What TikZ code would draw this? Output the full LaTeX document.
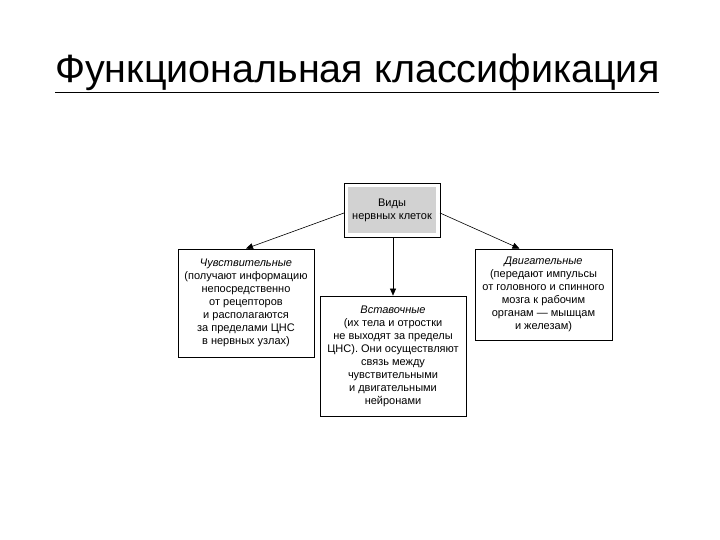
\documentclass[tikz,border=0pt]{standalone}
\usepackage{fontspec}
\setmainfont{Liberation Sans}
\usetikzlibrary{arrows.meta}
\begin{document}
\begin{tikzpicture}[x=1pt,y=-1pt,
  box/.style={draw,line width=0.8pt,align=center,font=\fontsize{11}{13}\selectfont,inner sep=0},
  arr/.style={-{Triangle[length=7pt,width=6pt]},line width=0.6pt}]
\useasboundingbox (0,0) rectangle (720,540);
\node[anchor=base west,font=\fontsize{39.5}{44}\selectfont,inner sep=0] (title) at (55,83) {\underline{Функциональная классификация}};
\draw[line width=0.8pt] (344,183) rectangle (440,237);
\node[box,fill=gray!35,draw=none,minimum width=88pt,minimum height=46pt] (top) at (392,210) {Виды\\нервных клеток};
\node[box,minimum width=136pt,minimum height=108pt] (left) at (246,303) {\textit{Чувствительные}\\(получают информацию\\непосредственно\\от рецепторов\\и располагаются\\за пределами ЦНС\\в нервных узлах)};
\node[box,minimum width=146pt,minimum height=120pt] (mid) at (393,356) {\textit{Вставочные}\\(их тела и отростки\\не выходят за пределы\\ЦНС). Они осуществляют\\связь между\\чувствительными\\и двигательными\\нейронами};
\node[box,minimum width=137pt,minimum height=91pt] (right) at (543.5,294.5) {\textit{Двигательные}\\(передают импульсы\\от головного и спинного\\мозга к рабочим\\органам — мышцам\\и железам)};
\coordinate (tl) at (344,213);
\coordinate (tr) at (440,213);
\coordinate (tb) at (393,237);
\draw[arr] (tl) -- (left.north);
\draw[arr] (tr) -- ([xshift=-24pt]right.north);
\draw[arr] (tb) -- (mid.north);
\end{tikzpicture}
\end{document}
